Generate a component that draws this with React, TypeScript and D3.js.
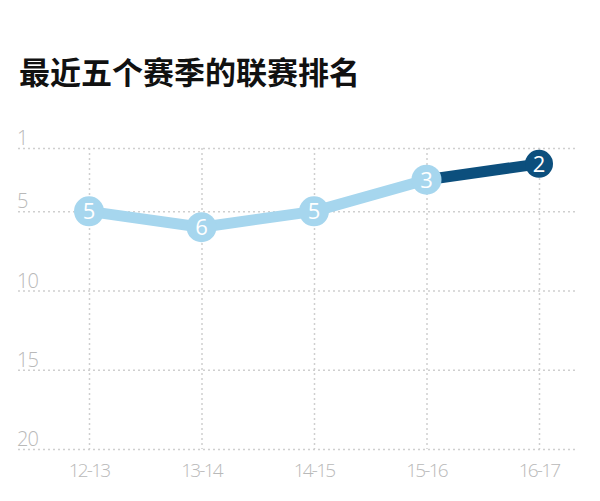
import { useEffect, useRef } from "react";
import * as d3 from "d3";

const seasons = ["12-13", "13-14", "14-15", "15-16", "16-17"];
const ranks = [5, 6, 5, 3, 2];
const rankTicks = [1, 5, 10, 15, 20];
const title = "最近五个赛季的联赛排名";

const LIGHT = "#a6d6ee";
const DARK = "#0c4f7d";
const GRID = "#cfcfcf";
const LABEL = "#b9b9b9";

const App = () => {
  const ref = useRef<SVGSVGElement>(null);

  useEffect(() => {
    const svg = d3.select(ref.current);
    svg.selectAll("*").remove();

    const x = d3.scalePoint<string>().domain(seasons).range([89, 539]);
    const y = d3.scaleLinear().domain([1, 20]).range([148, 449]);

    // titre
    svg
      .append("text")
      .attr("x", 19)
      .attr("y", 84)
      .attr("font-family", "'Noto Sans CJK SC', sans-serif")
      .attr("font-weight", 700)
      .attr("font-size", 31)
      .attr("fill", "#111")
      .text(title);

    // grille horizontale
    const yAxis = d3
      .axisLeft(y)
      .tickValues(rankTicks)
      .tickSize(-560)
      .tickFormat(() => "");
    svg
      .append("g")
      .attr("transform", "translate(18,0)")
      .call(yAxis)
      .call((g) => g.select(".domain").remove())
      .call((g) =>
        g
          .selectAll(".tick line")
          .attr("stroke", GRID)
          .attr("stroke-width", 1.5)
          .attr("stroke-dasharray", "2,3")
      );

    // grille verticale
    const xAxis = d3
      .axisBottom(x)
      .tickSize(y(20) - y(1))
      .tickFormat(() => "");
    svg
      .append("g")
      .attr("transform", `translate(0,${y(1)})`)
      .call(xAxis)
      .call((g) => g.select(".domain").remove())
      .call((g) =>
        g
          .selectAll(".tick line")
          .attr("stroke", GRID)
          .attr("stroke-width", 1.5)
          .attr("stroke-dasharray", "2,3")
      );

    // labels eixo y
    svg
      .selectAll("text.ylab")
      .data(rankTicks)
      .enter()
      .append("text")
      .attr("class", "ylab")
      .attr("x", 17)
      .attr("y", (d) => y(d) - 3)
      .attr("font-family", "'Open Sans', sans-serif")
      .attr("font-weight", 300)
      .attr("font-size", 20)
      .attr("letter-spacing", -1)
      .attr("fill", LABEL)
      .text((d) => d);

    // labels eixo x
    svg
      .selectAll("text.xlab")
      .data(seasons)
      .enter()
      .append("text")
      .attr("class", "xlab")
      .attr("x", (d) => x(d)!)
      .attr("y", 477)
      .attr("text-anchor", "middle")
      .attr("font-family", "'Open Sans', sans-serif")
      .attr("font-weight", 300)
      .attr("font-size", 19)
      .attr("letter-spacing", -1.8)
      .attr("fill", LABEL)
      .text((d) => d);

    const pts = seasons.map((s, i) => ({ s, r: ranks[i] }));
    const line = d3
      .line<{ s: string; r: number }>()
      .x((d) => x(d.s)!)
      .y((d) => y(d.r));

    svg
      .append("path")
      .datum(pts.slice(0, 4))
      .attr("fill", "none")
      .attr("stroke", LIGHT)
      .attr("stroke-width", 11)
      .attr("stroke-linejoin", "round")
      .attr("d", line);

    svg
      .append("path")
      .datum(pts.slice(3))
      .attr("fill", "none")
      .attr("stroke", DARK)
      .attr("stroke-width", 11)
      .attr("d", line);

    const last = pts.length - 1;
    const dots = svg
      .selectAll("g.dot")
      .data(pts)
      .enter()
      .append("g")
      .attr("class", "dot")
      .attr("transform", (d) => `translate(${x(d.s)},${y(d.r)})`);

    dots
      .append("circle")
      .attr("r", (_, i) => (i === last ? 14 : 15))
      .attr("fill", (_, i) => (i === last ? DARK : LIGHT));

    dots
      .append("text")
      .attr("text-anchor", "middle")
      .attr("dy", "0.36em")
      .attr("font-family", "'Open Sans', sans-serif")
      .attr("font-weight", 500)
      .attr("font-size", 22)
      .attr("fill", "#fff")
      .text((d) => d.r);
  }, []);

  return (
    <svg
      ref={ref}
      width={600}
      height={501}
      style={{ position: "absolute", left: 0, top: 0, background: "#fff" }}
    />
  );
};

export default App;
